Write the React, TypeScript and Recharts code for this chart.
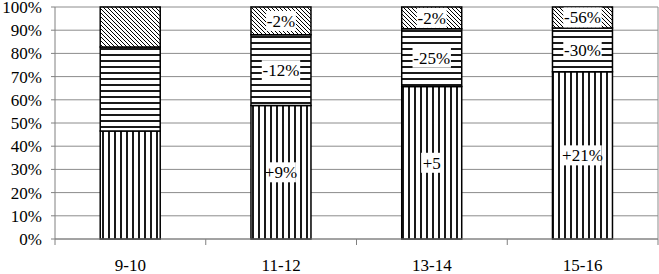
import { Bar, BarChart, CartesianGrid, LabelList, XAxis, YAxis } from "recharts"

const categories = ["9-10", "11-12", "13-14", "15-16"]
const bottomShare = [0.465, 0.575, 0.657, 0.721]
const middleShare = [0.363, 0.305, 0.249, 0.189]
const topShare = [0.172, 0.12, 0.094, 0.09]
const bottomLabels = ["", "+9%", "+5", "+21%"]
const middleLabels = ["", "-12%", "-25%", "-30%"]
const topLabels = ["", "-2%", "-2%", "-56%"]
const yTicks = [0, 0.1, 0.2, 0.3, 0.4, 0.5, 0.6, 0.7, 0.8, 0.9, 1]

const data = categories.map((name, i) => ({
  name,
  bottom: bottomShare[i],
  middle: middleShare[i],
  top: topShare[i],
  bottomLabel: bottomLabels[i],
  middleLabel: middleLabels[i],
  topLabel: topLabels[i],
}))

const font = "'Liberation Serif'"

function BoxLabel(props: any) {
  const { x, y, width, height, value } = props
  if (!value) return null
  const cx = x + width / 2
  const cy = y + height / 2
  const w = String(value).length * 8.6 + 4
  return (
    <g>
      <rect x={cx - w / 2} y={cy - 10} width={w} height={20} fill="#fff" />
      <text
        x={cx}
        y={cy + 6}
        textAnchor="middle"
        fontFamily={font}
        fontSize={17}
        fill="#000"
      >
        {value}
      </text>
    </g>
  )
}

function CategoryTick(props: any) {
  const { x, y, payload, index, width } = props
  const half = width / categories.length / 2
  return (
    <g>
      {index === 0 && <line x1={x - half} y1={y} x2={x - half} y2={y + 6} stroke="#808080" />}
      <line x1={x + half} y1={y} x2={x + half} y2={y + 6} stroke="#808080" />
      <text x={x} y={y + 32} textAnchor="middle" fontFamily={font} fontSize={17} fill="#000">
        {payload.value}
      </text>
    </g>
  )
}

export default function App() {
  return (
    <div style={{ position: "absolute", left: 0, top: 0 }}>
      <BarChart
        width={659}
        height={274}
        data={data}
        margin={{ top: 7, right: 1, bottom: 0, left: 0 }}
        barCategoryGap="30%"
      >
        <defs>
          <pattern id="vert" width="6" height="6" patternUnits="userSpaceOnUse">
            <rect width="6" height="6" fill="#fff" />
            <line x1="1" y1="0" x2="1" y2="6" stroke="#000" strokeWidth="1.8" />
          </pattern>
          <pattern id="horiz" width="6" height="6" patternUnits="userSpaceOnUse">
            <rect width="6" height="6" fill="#fff" />
            <line x1="0" y1="1" x2="6" y2="1" stroke="#000" strokeWidth="1.8" />
          </pattern>
          <pattern id="diag" width="4" height="4" patternUnits="userSpaceOnUse">
            <rect width="4" height="4" fill="#fff" />
            <line x1="-1" y1="-1" x2="5" y2="5" stroke="#000" strokeWidth="1" />
          </pattern>
        </defs>
        <CartesianGrid
          horizontal
          vertical
          verticalCoordinatesGenerator={({ offset }: any) => [offset.left + offset.width]}
          stroke="#8c8c8c"
          strokeWidth={1}
        />
        <XAxis
          dataKey="name"
          axisLine={{ stroke: "#808080" }}
          tickLine={false}
          tickSize={0}
          tickMargin={0}
          height={35}
          tick={<CategoryTick />}
          interval={0}
        />
        <YAxis
          width={55}
          domain={[0, 1]}
          ticks={yTicks}
          interval={0}
          tickFormatter={(v) => `${Math.round(v * 100)}%`}
          axisLine={{ stroke: "#808080" }}
          tickLine={{ stroke: "#808080" }}
          tickSize={4}
          tickMargin={9}
          tick={{ fontFamily: font, fontSize: 17, fill: "#000" }}
        />
        <Bar dataKey="bottom" stackId="a" fill="url(#vert)" stroke="#000" strokeWidth={1.5} isAnimationActive={false}>
          <LabelList dataKey="bottomLabel" content={<BoxLabel />} />
        </Bar>
        <Bar dataKey="middle" stackId="a" fill="url(#horiz)" stroke="#000" strokeWidth={1.5} isAnimationActive={false}>
          <LabelList dataKey="middleLabel" content={<BoxLabel />} />
        </Bar>
        <Bar dataKey="top" stackId="a" fill="url(#diag)" stroke="#000" strokeWidth={1.5} isAnimationActive={false}>
          <LabelList dataKey="topLabel" content={<BoxLabel />} />
        </Bar>
      </BarChart>
    </div>
  )
}
